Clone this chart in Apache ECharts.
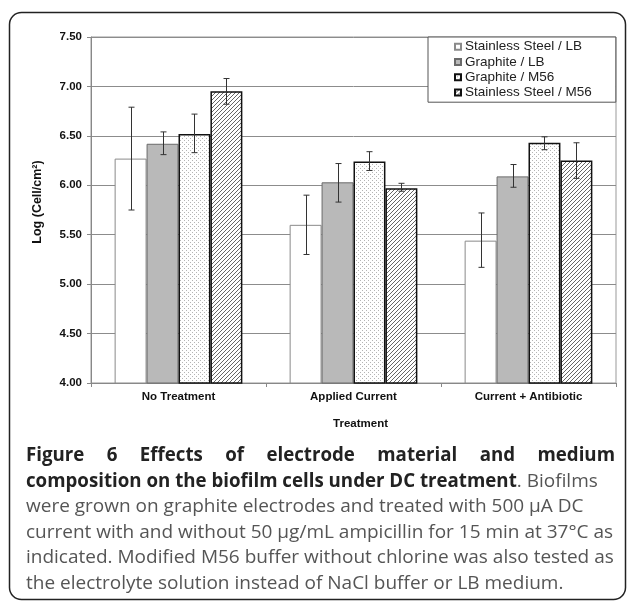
<!DOCTYPE html>
<html><head><meta charset="utf-8">
<script src="https://cdn.jsdelivr.net/npm/echarts@6/dist/echarts.min.js"></script>
<style>html,body{margin:0;padding:0;background:#fff}#c{width:629px;height:605px}</style>
</head><body><div id="c"></div>
<script>
const categories = ['No Treatment', 'Applied Current', 'Current + Antibiotic'];
const seriesNames = ['Stainless Steel / LB', 'Graphite / LB', 'Graphite / M56', 'Stainless Steel / M56'];
const ssLB = [6.27, 5.60, 5.44];
const grLB = [6.42, 6.03, 6.09];
const grM56 = [6.52, 6.24, 6.43];
const ssM56 = [6.95, 5.97, 6.25];
const ssLBErr = [[5.75, 6.79], [5.30, 5.90], [5.17, 5.72]];
const grLBErr = [[6.31, 6.54], [5.83, 6.22], [5.98, 6.21]];
const grM56Err = [[6.33, 6.72], [6.15, 6.34], [6.36, 6.49]];
const ssM56Err = [[6.82, 7.08], [5.94, 6.02], [6.07, 6.43]];
const yTicks = {min: 4, max: 7.5, step: 0.5};
const titleText = 'Log (Cell/cm²)';
const xName = 'Treatment';
const captionLine1 = ['Figure', '6', 'Effects', 'of', 'electrode', 'material', 'and', 'medium'];
const captionLine2Bold = 'composition on the biofilm cells under DC treatment';
const captionLine2Rest = '. Biofilms';
const captionLines = [
  'were grown on graphite electrodes and treated with 500 µA DC',
  'current with and without 50 µg/mL ampicillin for 15 min at 37°C as',
  'indicated. Modified M56 buffer without chlorine was also tested as',
  'the electrolyte solution instead of NaCl buffer or LB medium.'
];

function makeDots() {
  const c = document.createElement('canvas'); c.width = 4; c.height = 4;
  const g = c.getContext('2d');
  g.fillStyle = '#fff'; g.fillRect(0, 0, 4, 4);
  g.fillStyle = '#b4b4b4'; g.fillRect(0, 0, 1, 1); g.fillRect(2, 2, 1, 1);
  return c;
}
function makeHatch() {
  const s = 4;
  const c = document.createElement('canvas'); c.width = s; c.height = s;
  const g = c.getContext('2d');
  g.fillStyle = '#fff'; g.fillRect(0, 0, s, s);
  g.strokeStyle = '#555'; g.lineWidth = 0.9;
  g.beginPath();
  g.moveTo(0, s); g.lineTo(s, 0);
  g.moveTo(-s, s); g.lineTo(s, -s);
  g.moveTo(0, 2 * s); g.lineTo(2 * s, 0);
  g.stroke();
  return c;
}
const dotPat = {image: makeDots(), repeat: 'repeat'};
const hatchPat = {image: makeHatch(), repeat: 'repeat'};

const styles = [
  {color: '#ffffff', borderColor: '#8a8a8a', borderWidth: 1},
  {color: '#b9b9b9', borderColor: '#6a6a6a', borderWidth: 1},
  {color: dotPat, borderColor: '#111', borderWidth: 1.5},
  {color: hatchPat, borderColor: '#111', borderWidth: 1.5}
];
const values = [ssLB, grLB, grM56, ssM56];
const errs = [ssLBErr, grLBErr, grM56Err, ssM56Err];
const CAT_GAP = 0.27;

const series = [];
values.forEach((v, k) => {
  series.push({
    name: seriesNames[k], type: 'bar', data: v,
    barGap: '0%', barCategoryGap: (CAT_GAP * 100) + '%',
    itemStyle: styles[k], emphasis: {disabled: true}, z: 2
  });
});
errs.forEach((e, k) => {
  series.push({
    type: 'custom', z: 5, silent: true,
    data: e.map((d, i) => [i, d[0], d[1]]),
    renderItem: function (params, api) {
      const lo = api.coord([api.value(0), api.value(1)]);
      const hi = api.coord([api.value(0), api.value(2)]);
      const band = api.size([1, 0])[0];
      const groupW = band * (1 - CAT_GAP);
      const barW = groupW / 4;
      const cx = Math.round(lo[0] - groupW / 2 + barW * (k + 0.5)) + 0.5;
      const st = {stroke: '#333', lineWidth: 1};
      return {type: 'group', children: [
        {type: 'line', shape: {x1: cx, y1: hi[1], x2: cx, y2: lo[1]}, style: st},
        {type: 'line', shape: {x1: cx - 3, y1: hi[1], x2: cx + 3, y2: hi[1]}, style: st},
        {type: 'line', shape: {x1: cx - 3, y1: lo[1], x2: cx + 3, y2: lo[1]}, style: st}
      ]};
    }
  });
});

// caption graphics
const FONT = '"Open Sans", "Noto Sans", sans-serif';
const mctx = document.createElement('canvas').getContext('2d');
function tw(text, font) { mctx.font = font; return mctx.measureText(text).width; }
const capSize = 19;
const boldFont = 'bold 18.7px ' + FONT;
const regFont = capSize + 'px ' + FONT;
const graphics = [];
graphics.push({type: 'rect', shape: {x: 9.5, y: 12.5, width: 616, height: 587, r: 12},
  style: {fill: 'none', stroke: '#222', lineWidth: 1.5}, silent: true});
const lx0 = 26, lx1 = 615, y1 = 456, lh = 25.5;
const widths = captionLine1.map(w => tw(w, boldFont));
const totalW = widths.reduce((a, b) => a + b, 0);
const gap = (lx1 - lx0 - totalW) / (captionLine1.length - 1);
let xx = lx0;
captionLine1.forEach((w, i) => {
  graphics.push({type: 'text', x: xx, y: y1, style: {text: w, font: boldFont, fill: '#222', textVerticalAlign: 'middle'}});
  xx += widths[i] + gap;
});
graphics.push({type: 'text', x: lx0, y: y1 + lh, style: {
  text: '{b|' + captionLine2Bold + '}{r|' + captionLine2Rest + '}',
  textVerticalAlign: 'middle',
  rich: {b: {font: boldFont, fill: '#222'}, r: {font: regFont, fill: '#555'}}
}});
captionLines.forEach((t, i) => {
  graphics.push({type: 'text', x: lx0, y: y1 + lh * (i + 2), style: {text: t, font: regFont, fill: '#555', textVerticalAlign: 'middle'}});
});

const chart = echarts.init(document.getElementById('c'), null, {renderer: 'canvas'});
const AX = '"Liberation Sans", Arial, sans-serif';
chart.setOption({
  animation: false,
  textStyle: {fontFamily: AX},
  grid: {left: 91, right: 13, top: 37, bottom: 222, show: true, borderColor: '#999', borderWidth: 1},
  legend: {
    data: seriesNames, orient: 'vertical', left: 428, top: 37,
    icon: 'rect', itemWidth: 6, itemHeight: 6, itemGap: 0,
    padding: [2, 24, 2, 26], borderColor: '#555', borderWidth: 1, backgroundColor: '#fff',
    textStyle: {fontSize: 13.5, lineHeight: 15.3, color: '#222', fontFamily: AX, padding: [0, 0, 0, -1]},
    selectedMode: false
  },
  xAxis: {
    type: 'category', data: categories,
    axisLine: {lineStyle: {color: '#888'}},
    axisTick: {show: true, length: 4, lineStyle: {color: '#888'}},
    axisLabel: {fontSize: 11.5, fontWeight: 'bold', color: '#111', margin: 8},
    name: xName, nameLocation: 'middle', nameGap: 35,
    nameTextStyle: {fontSize: 11.5, fontWeight: 'bold', color: '#111', padding: [0, 0, 0, 14]}
  },
  yAxis: {
    type: 'value', min: yTicks.min, max: yTicks.max, interval: yTicks.step,
    axisLine: {show: true, lineStyle: {color: '#888'}},
    axisTick: {show: true, length: 4, lineStyle: {color: '#888'}},
    axisLabel: {fontSize: 11.5, fontWeight: 'bold', color: '#111', margin: 9, formatter: v => v.toFixed(2)},
    splitLine: {lineStyle: {color: '#8c8c8c', width: 1}},
    name: titleText, nameLocation: 'middle', nameGap: 47, nameRotate: 90,
    nameTextStyle: {fontSize: 12.5, fontWeight: 'bold', color: '#111', padding: [0, 0, 0, 16]}
  },
  series: series,
  graphic: graphics
});
</script></body></html>
